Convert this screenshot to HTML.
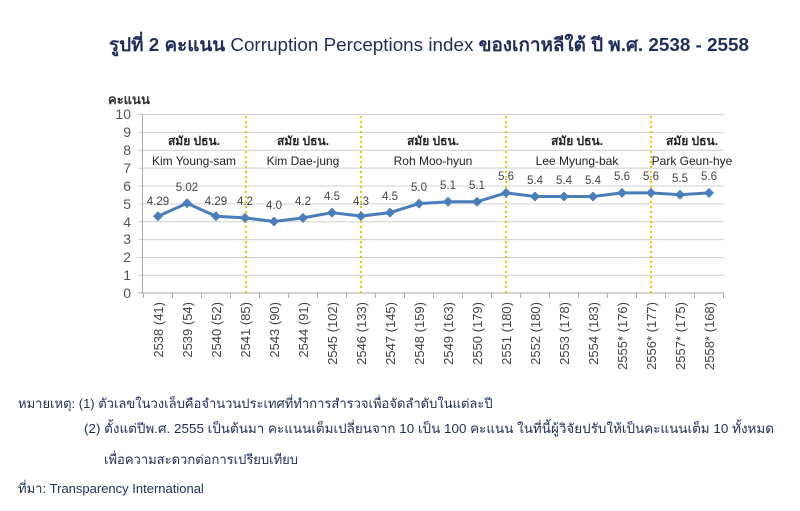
<!DOCTYPE html>
<html><head><meta charset="utf-8"><style>
body{margin:0;background:#fff;}
svg{display:block;font-family:"Liberation Sans","DejaVu Sans",sans-serif;}
</style></head><body>
<svg width="800" height="511" viewBox="0 0 800 511" xmlns="http://www.w3.org/2000/svg">
<text x="429" y="51" text-anchor="middle" font-size="18.5" fill="#1f2d5a" textLength="640" lengthAdjust="spacingAndGlyphs"><tspan font-weight="bold">รูปที่ 2 คะแนน</tspan> Corruption Perceptions index <tspan font-weight="bold">ของเกาหลีใต้ ปี พ.ศ. 2538 - 2558</tspan></text>
<text x="108" y="104" font-size="13" font-weight="bold" fill="#333">คะแนน</text>
<g stroke="#d0d0d0" stroke-width="1">
<line x1="138" y1="114.5" x2="724" y2="114.5"/><line x1="138" y1="132.4" x2="724" y2="132.4"/>
<line x1="138" y1="150.2" x2="724" y2="150.2"/><line x1="138" y1="168.1" x2="724" y2="168.1"/>
<line x1="138" y1="186" x2="724" y2="186"/><line x1="138" y1="203.9" x2="724" y2="203.9"/>
<line x1="138" y1="221.7" x2="724" y2="221.7"/><line x1="138" y1="239.6" x2="724" y2="239.6"/>
<line x1="138" y1="257.5" x2="724" y2="257.5"/><line x1="138" y1="275.3" x2="724" y2="275.3"/>
</g>
<line x1="138" y1="293" x2="724" y2="293" stroke="#aaa"/>
<line x1="142.5" y1="114" x2="142.5" y2="293" stroke="#aaa"/>
<g stroke="#aaa"><line x1="143.5" y1="293" x2="143.5" y2="298"/><line x1="172.5" y1="293" x2="172.5" y2="298"/><line x1="201.5" y1="293" x2="201.5" y2="298"/><line x1="230.5" y1="293" x2="230.5" y2="298"/><line x1="259.5" y1="293" x2="259.5" y2="298"/><line x1="288.5" y1="293" x2="288.5" y2="298"/><line x1="317.5" y1="293" x2="317.5" y2="298"/><line x1="346.5" y1="293" x2="346.5" y2="298"/><line x1="375.5" y1="293" x2="375.5" y2="298"/><line x1="404.5" y1="293" x2="404.5" y2="298"/><line x1="433.5" y1="293" x2="433.5" y2="298"/><line x1="462.5" y1="293" x2="462.5" y2="298"/><line x1="491.5" y1="293" x2="491.5" y2="298"/><line x1="520.5" y1="293" x2="520.5" y2="298"/><line x1="549.5" y1="293" x2="549.5" y2="298"/><line x1="578.5" y1="293" x2="578.5" y2="298"/><line x1="607.5" y1="293" x2="607.5" y2="298"/><line x1="636.5" y1="293" x2="636.5" y2="298"/><line x1="665.5" y1="293" x2="665.5" y2="298"/><line x1="694.5" y1="293" x2="694.5" y2="298"/><line x1="723.5" y1="293" x2="723.5" y2="298"/></g>
<g font-size="14" fill="#555" text-anchor="end">
<text x="131" y="119">10</text><text x="131" y="137">9</text><text x="131" y="155">8</text><text x="131" y="173">7</text><text x="131" y="191">6</text><text x="131" y="209">5</text><text x="131" y="227">4</text><text x="131" y="244">3</text><text x="131" y="262">2</text><text x="131" y="280">1</text><text x="131" y="298">0</text>
</g>
<g stroke="#f2c300" stroke-width="2" stroke-dasharray="2,3">
<line x1="246" y1="116" x2="246" y2="293"/><line x1="361" y1="116" x2="361" y2="293"/><line x1="506" y1="116" x2="506" y2="293"/><line x1="651" y1="116" x2="651" y2="293"/>
</g>
<g font-size="12" fill="#222" text-anchor="middle">
<text x="194" y="145" font-weight="bold">สมัย ปธน.</text><text x="194" y="165">Kim Young-sam</text>
<text x="303" y="145" font-weight="bold">สมัย ปธน.</text><text x="303" y="165">Kim Dae-jung</text>
<text x="433" y="145" font-weight="bold">สมัย ปธน.</text><text x="433" y="165">Roh Moo-hyun</text>
<text x="577" y="145" font-weight="bold">สมัย ปธน.</text><text x="577" y="165">Lee Myung-bak</text>
<text x="692" y="145" font-weight="bold">สมัย ปธน.</text><text x="692" y="165">Park Geun-hye</text>
</g>
<polyline fill="none" stroke="#4a7ebb" stroke-width="3" points="158,216.3 187,203.3 216,216.3 245,217.9 274,221.5 303,217.9 332,212.6 361,216.1 390,212.6 419,203.6 448,201.8 477,201.8 506,192.9 535,196.5 564,196.5 593,196.5 622,192.9 651,192.9 680,194.7 709,192.9"/>
<g fill="#4a7ebb">
<path d="M158,211.3l5,5-5,5-5-5z"/><path d="M187,198.3l5,5-5,5-5-5z"/><path d="M216,211.3l5,5-5,5-5-5z"/><path d="M245,212.9l5,5-5,5-5-5z"/><path d="M274,216.5l5,5-5,5-5-5z"/><path d="M303,212.9l5,5-5,5-5-5z"/><path d="M332,207.6l5,5-5,5-5-5z"/><path d="M361,211.1l5,5-5,5-5-5z"/><path d="M390,207.6l5,5-5,5-5-5z"/><path d="M419,198.6l5,5-5,5-5-5z"/><path d="M448,196.8l5,5-5,5-5-5z"/><path d="M477,196.8l5,5-5,5-5-5z"/><path d="M506,187.9l5,5-5,5-5-5z"/><path d="M535,191.5l5,5-5,5-5-5z"/><path d="M564,191.5l5,5-5,5-5-5z"/><path d="M593,191.5l5,5-5,5-5-5z"/><path d="M622,187.9l5,5-5,5-5-5z"/><path d="M651,187.9l5,5-5,5-5-5z"/><path d="M680,189.7l5,5-5,5-5-5z"/><path d="M709,187.9l5,5-5,5-5-5z"/>
</g>
<g font-size="11.5" fill="#444" text-anchor="middle">
<text x="158" y="205">4.29</text><text x="187" y="191">5.02</text><text x="216" y="205">4.29</text><text x="245" y="205">4.2</text><text x="274" y="209">4.0</text><text x="303" y="205">4.2</text><text x="332" y="200">4.5</text><text x="361" y="205">4.3</text><text x="390" y="200">4.5</text><text x="419" y="191">5.0</text><text x="448" y="189">5.1</text><text x="477" y="189">5.1</text><text x="506" y="180">5.6</text><text x="535" y="184">5.4</text><text x="564" y="184">5.4</text><text x="593" y="184">5.4</text><text x="622" y="180">5.6</text><text x="651" y="180">5.6</text><text x="680" y="182">5.5</text><text x="709" y="180">5.6</text>
</g>
<g font-size="13" fill="#444">
<text transform="translate(163,302) rotate(-90)" text-anchor="end">2538 (41)</text>
<text transform="translate(192,302) rotate(-90)" text-anchor="end">2539 (54)</text>
<text transform="translate(221,302) rotate(-90)" text-anchor="end">2540 (52)</text>
<text transform="translate(250,302) rotate(-90)" text-anchor="end">2541 (85)</text>
<text transform="translate(279,302) rotate(-90)" text-anchor="end">2543 (90)</text>
<text transform="translate(308,302) rotate(-90)" text-anchor="end">2544 (91)</text>
<text transform="translate(337,302) rotate(-90)" text-anchor="end">2545 (102)</text>
<text transform="translate(366,302) rotate(-90)" text-anchor="end">2546 (133)</text>
<text transform="translate(395,302) rotate(-90)" text-anchor="end">2547 (145)</text>
<text transform="translate(424,302) rotate(-90)" text-anchor="end">2548 (159)</text>
<text transform="translate(453,302) rotate(-90)" text-anchor="end">2549 (163)</text>
<text transform="translate(482,302) rotate(-90)" text-anchor="end">2550 (179)</text>
<text transform="translate(511,302) rotate(-90)" text-anchor="end">2551 (180)</text>
<text transform="translate(540,302) rotate(-90)" text-anchor="end">2552 (180)</text>
<text transform="translate(569,302) rotate(-90)" text-anchor="end">2553 (178)</text>
<text transform="translate(598,302) rotate(-90)" text-anchor="end">2554 (183)</text>
<text transform="translate(627,302) rotate(-90)" text-anchor="end">2555* (176)</text>
<text transform="translate(656,302) rotate(-90)" text-anchor="end">2556* (177)</text>
<text transform="translate(685,302) rotate(-90)" text-anchor="end">2557* (175)</text>
<text transform="translate(714,302) rotate(-90)" text-anchor="end">2558* (168)</text>
</g>
<g font-size="13" fill="#1f2d5a">
<text x="18" y="408">หมายเหตุ: (1) ตัวเลขในวงเล็บคือจำนวนประเทศที่ทำการสำรวจเพื่อจัดลำดับในแต่ละปี</text>
<text x="84" y="433" textLength="690" lengthAdjust="spacingAndGlyphs">(2) ตั้งแต่ปีพ.ศ. 2555 เป็นต้นมา คะแนนเต็มเปลี่ยนจาก 10 เป็น 100 คะแนน ในที่นี้ผู้วิจัยปรับให้เป็นคะแนนเต็ม 10 ทั้งหมด</text>
<text x="104" y="464">เพื่อความสะดวกต่อการเปรียบเทียบ</text>
<text x="18" y="493">ที่มา: Transparency International</text>
</g>
</svg>
</body></html>
